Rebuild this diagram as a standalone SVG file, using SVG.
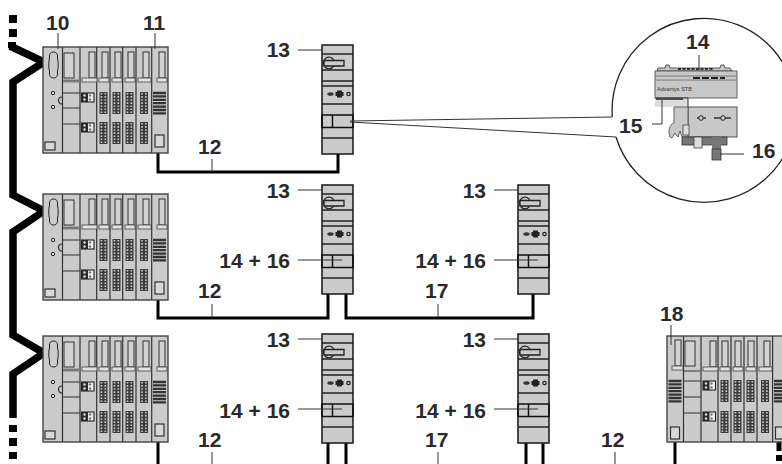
<svg xmlns="http://www.w3.org/2000/svg" xmlns:xlink="http://www.w3.org/1999/xlink" width="782" height="464" viewBox="0 0 782 464">
<style>
text{font-family:"Liberation Sans",Arial,sans-serif;font-weight:bold;font-size:21px;fill:#2a2a2a}
.e{text-anchor:end}
.l{fill:none;stroke:#333;stroke-width:1.200}
.d{fill:none;stroke:#222;stroke-width:1.400}
.w{fill:none;stroke:#000;stroke-width:3}
.bus{fill:none;stroke:#000;stroke-width:7.500;stroke-linejoin:miter;stroke-miterlimit:6}
.lead{fill:none;stroke:#333;stroke-width:1}
.s{fill:#d2d2d2;stroke:#333;stroke-width:1}
.t{fill:#e2e2e2;stroke:#444;stroke-width:.8}
.box{fill:#d8d8d8;stroke:#333;stroke-width:1.200}
</style>
<defs>
<g id="term"><rect width="8" height="22" fill="#3c3c3c"/><path d="M2 1V21M5.800 1V21" stroke="#ccc" stroke-width="1.600" stroke-dasharray="1.600 1.500" fill="none"/></g>
<g id="twin"><rect width="12.500" height="9" fill="#f0f0f0" stroke="#222" stroke-width="1.100"/><rect width="6.500" height="9" fill="#2a2a2a"/><circle cx="3" cy="2.500" r="1.200" fill="#ddd"/><circle cx="3" cy="6.500" r="1.200" fill="#ddd"/><circle cx="8.500" cy="2.500" r="1.200" fill="#777"/><circle cx="8.500" cy="6.500" r="1.200" fill="#777"/></g>
<g id="coil"><path d="M0 1h13M0 4.400h13M0 7.800h13M0 11.200h13M0 14.600h13M0 18h13M0 21.400h13" stroke="#333" stroke-width="2.300" fill="none"/></g>
<g id="plc">
<rect width="125" height="106" fill="#cbcbcb"/>
<path class="l" d="M19.500 0V106M37 0V106M53.700 0V106M67 0V106M79.700 0V106M93 0V106M108.700 0V106"/>
<path d="M20 34h17" stroke="#777" stroke-width="2.800"/>
<path class="l" d="M20 46h17M20 61h17M20 77h17"/>
<rect class="s" x="21" y="6" width="10" height="25"/>
<path d="M10.500 5c3 0 4 2 4 4v3c1 2 .8 10 0 12v3c0 2-1 4-4 4s-4-2-4-4v-3c-1-2-1-10 0-12V9c0-2 1-4 4-4z" fill="#cbcbcb" stroke="#222"/>
<circle cx="10" cy="46" r="1.700" fill="#ddd" stroke="#222"/><circle cx="10" cy="60" r="1.700" fill="#ddd" stroke="#222"/>
<path class="l" d="M19 50a3.500 3.500 0 0 0 0 7"/>
<rect class="box" x="2" y="95" width="10" height="8"/>
<rect class="s" x="46" y="5" width="6" height="26"/><rect class="t" x="39" y="31" width="15" height="4"/>
<rect class="s" x="59" y="5" width="6" height="26"/><rect class="t" x="56" y="31" width="10" height="4"/>
<rect class="s" x="72" y="5" width="6" height="26"/><rect class="t" x="69" y="31" width="10" height="4"/>
<rect class="s" x="85" y="5" width="6" height="26"/><rect class="t" x="82" y="31" width="10" height="4"/>
<rect class="s" x="100" y="5" width="6" height="26"/><rect class="t" x="95" y="31" width="13" height="4"/>
<rect class="s" x="116" y="5" width="6" height="26"/><rect class="t" x="114" y="31" width="10" height="4"/>
<use xlink:href="#twin" x="38.500" y="46"/><use xlink:href="#twin" x="38.500" y="76"/>
<use xlink:href="#term" x="56.500" y="45"/><use xlink:href="#term" x="69.500" y="45"/><use xlink:href="#term" x="82.500" y="45"/><use xlink:href="#term" x="97" y="45"/>
<use xlink:href="#term" x="56.500" y="75"/><use xlink:href="#term" x="69.500" y="75"/><use xlink:href="#term" x="82.500" y="75"/><use xlink:href="#term" x="97" y="75"/>
<use xlink:href="#coil" x="110" y="45"/>
<rect class="box" x="112" y="88" width="9" height="12"/>
<rect width="125" height="106" fill="none" stroke="#444" stroke-width="1.400"/>
</g>
<g id="plcm">
<rect width="125" height="106" fill="#cbcbcb"/>
<path class="l" d="M16.500 0V106M34 0V106M51 0V106M64 0V106M77 0V106M90 0V106M105.600 0V106"/>
<path d="M17 35h17" stroke="#666" stroke-width="1.500"/>
<path class="l" d="M17 45h17M17 61h17M17 77h17"/>
<rect class="s" x="18" y="5" width="10" height="25"/>
<rect class="s" x="8" y="4" width="6" height="26"/><rect class="t" x="5" y="30" width="11" height="4"/>
<rect class="s" x="43" y="5" width="6" height="26"/><rect class="t" x="36" y="31" width="15" height="4"/>
<rect class="s" x="55" y="5" width="6" height="26"/><rect class="t" x="53" y="31" width="10" height="4"/>
<rect class="s" x="68" y="5" width="6" height="26"/><rect class="t" x="66" y="31" width="10" height="4"/>
<rect class="s" x="81" y="5" width="6" height="26"/><rect class="t" x="79" y="31" width="10" height="4"/>
<rect class="s" x="97" y="5" width="6" height="26"/><rect class="t" x="92" y="31" width="13" height="4"/>
<use xlink:href="#twin" x="36" y="45"/><use xlink:href="#twin" x="36" y="76"/>
<use xlink:href="#term" x="53.500" y="44"/><use xlink:href="#term" x="66.500" y="44"/><use xlink:href="#term" x="79.500" y="44"/><use xlink:href="#term" x="94" y="44"/>
<use xlink:href="#term" x="53.500" y="75"/><use xlink:href="#term" x="66.500" y="75"/><use xlink:href="#term" x="79.500" y="75"/><use xlink:href="#term" x="94" y="75"/>
<use xlink:href="#coil" x="1.500" y="44"/><use xlink:href="#coil" x="107" y="44"/>
<rect class="box" x="3.500" y="91" width="9" height="12"/><rect class="box" x="108.500" y="91" width="9" height="12"/>
<rect width="125" height="106" fill="none" stroke="#444" stroke-width="1.400"/>
</g>
<g id="dev">
<rect width="31" height="109" fill="#cbcbcb" stroke="#222" stroke-width="1.600"/>
<path class="d" d="M0 9h31M0 25h31M0 36h31M0 41h31M0 59h31M0 93h31"/>
<ellipse cx="7" cy="18" rx="5.500" ry="5.800" fill="none" stroke="#222" stroke-width="1.300"/>
<path d="M2 15.500h20v5.500H2z" fill="#cbcbcb" stroke="#222" stroke-width="1.300"/>
<ellipse cx="8.500" cy="49" rx="3.200" ry="1.800" fill="#333"/><rect x="15" y="45.500" width="5" height="7" fill="#222"/><rect x="13.500" y="47" width="8" height="4" fill="#222"/><circle cx="26.500" cy="49" r="1.700" fill="#ccc" stroke="#222" stroke-width="1.200"/>
<path d="M0 70h31v12.500H0z" fill="none" stroke="#111" stroke-width="1.700"/>
<path d="M10.500 70v12.500" fill="none" stroke="#111" stroke-width="1.500"/>
</g>
</defs>

<g id="connectors">
<path class="bus" d="M10 46L44 62L13 82V195L44 211L13 232V335L44 353L13 374V418"/>
<path d="M8 42h8v6H8zM9 15h8v8H9zM9 29h8v8H9zM9 425h8v7H9zM9 438h8v8H9zM9 452h8v7H9z" fill="#000"/>
<path class="w" d="M158 153V172H338V154"/>
<path class="w" d="M158 300V318H328V294"/>
<path class="w" d="M346 294V318H533V294"/>
<path class="w" d="M158 442V464M328 443V464M346 443V464M526 443V464M543 443V464M675 442V464"/>
<path d="M779 442V451" fill="none" stroke="#000" stroke-width="5"/>
<path d="M776 455h6v6h-6z" fill="#000"/>
</g>

<g id="rack10"><use xlink:href="#plc" x="43" y="47"/></g>
<g id="rack2"><use xlink:href="#plc" x="43" y="194"/></g>
<g id="rack3"><use xlink:href="#plc" x="43" y="336"/></g>
<g id="rack18"><use xlink:href="#plcm" x="667" y="336"/></g>

<g id="dev1"><use xlink:href="#dev" x="322" y="45"/></g>
<g id="dev2"><use xlink:href="#dev" x="322" y="185"/></g>
<g id="dev3"><use xlink:href="#dev" x="518" y="185"/></g>
<g id="dev4"><use xlink:href="#dev" x="322" y="334"/></g>
<g id="dev5"><use xlink:href="#dev" x="518" y="334"/></g>

<g id="detail">
<path class="lead" d="M350 121L612 117M350 122L616 137"/>
<path d="M612.300 117A92 92 0 1 1 616 137" fill="#fff" stroke="#222" stroke-width="1.300"/>
<path d="M657 71l1-3h7l1-3h3l1 3h50l1-3h3l1 3h5l2 3z" fill="#c8c8c8" stroke="#333" stroke-width=".8"/>
<rect x="655" y="71" width="82" height="27" fill="#c8c8c8" stroke="#444" stroke-width=".8"/>
<path d="M655 76h82M655 80h82" stroke="#666" stroke-width=".8"/>
<path d="M678 69h35" stroke="#333" stroke-width="2" stroke-dasharray="3 1.500"/>
<path d="M693 78h32" stroke="#222" stroke-width="2" stroke-dasharray="7 2"/>
<text x="657" y="91" style="font-size:5.500px;font-weight:normal;fill:#333">Advantys STB</text>
<rect x="655" y="98" width="33" height="9" fill="#ddd"/>
<rect x="656" y="98" width="27" height="2" fill="#555"/>
<path d="M655 98H688V107" stroke="#333" stroke-width="1" fill="none"/>
<rect x="688" y="107" width="49" height="30" fill="#c8c8c8" stroke="#444" stroke-width=".9"/>
<path d="M674 107h14v30h-6l-2-6-2 6-3-4-3 5-2-1c-2-6-1-12 4-14v-16z" fill="#c8c8c8" stroke="#444" stroke-width=".8"/>
<rect x="683" y="125" width="6" height="10" fill="#ddd" stroke="#444" stroke-width=".8"/>
<path d="M697 118h9M714 118h17" stroke="#333" stroke-width="1.300"/><circle cx="701" cy="118" r="2.300" fill="#ccc" stroke="#222"/><circle cx="723" cy="118" r="2.300" fill="#ccc" stroke="#222"/>
<rect x="682" y="137" width="45" height="8" fill="#777" stroke="#333" stroke-width=".8"/>
<rect x="694" y="137" width="8" height="11" fill="#ddd" stroke="#444" stroke-width=".8"/>
<rect x="712" y="137" width="9" height="15" fill="#777"/><rect x="712" y="149" width="9" height="11" fill="#777" stroke="#333" stroke-width=".8"/>
</g>

<g id="labels">
<text x="46" y="30">10</text><path class="lead" d="M58 33V49"/>
<text x="143" y="30">11</text><path class="lead" d="M155 33V49"/>
<text class="e" x="290" y="57">13</text><path class="lead" d="M298 50H322"/>
<text x="198" y="154">12</text><path class="lead" d="M212 159V172"/>
<text class="e" x="290" y="198">13</text><path class="lead" d="M298 190H322"/>
<text class="e" x="486" y="198">13</text><path class="lead" d="M494 190H518"/>
<text class="e" x="290" y="268">14 + 16</text><path class="lead" d="M298 260H342"/>
<text class="e" x="486" y="268">14 + 16</text><path class="lead" d="M494 260H538"/>
<text x="198" y="298">12</text><path class="lead" d="M212 304V318"/>
<text x="425" y="298">17</text><path class="lead" d="M438 304V318"/>
<text class="e" x="290" y="347">13</text><path class="lead" d="M298 339H322"/>
<text class="e" x="486" y="347">13</text><path class="lead" d="M494 339H518"/>
<text class="e" x="290" y="418">14 + 16</text><path class="lead" d="M298 409H342"/>
<text class="e" x="486" y="418">14 + 16</text><path class="lead" d="M494 409H538"/>
<text x="198" y="447">12</text><path class="lead" d="M212 452V464"/>
<text x="425" y="447">17</text><path class="lead" d="M438 452V464"/>
<text x="601" y="447">12</text><path class="lead" d="M615 452V464"/>
<text x="660" y="321">18</text><path class="lead" d="M671 325V345"/>
<text x="686" y="49">14</text><path class="lead" d="M699 55V70"/>
<text x="619" y="133">15</text><path class="lead" d="M652 124H662V100"/>
<text x="752" y="158">16</text><path class="lead" d="M720 154H744"/>
</g>
</svg>
